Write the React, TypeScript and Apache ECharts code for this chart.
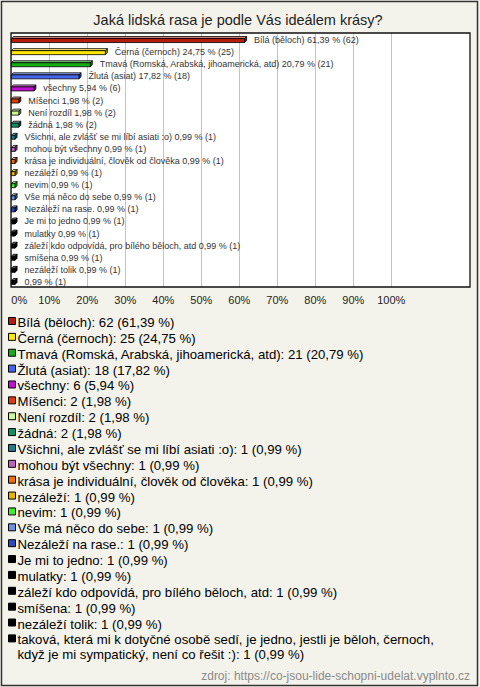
import React, { useEffect, useRef } from "react";
import * as echarts from "echarts";

const titleText = "Jaká lidská rasa je podle Vás ideálem krásy?";
const sourceText = "zdroj: https://co-jsou-lide-schopni-udelat.vyplnto.cz";

const categories = [
  "Bílá (běloch)",
  "Černá (černoch)",
  "Tmavá (Romská, Arabská, jihoamerická, atd)",
  "Žlutá (asiat)",
  "všechny",
  "Míšenci",
  "Není rozdíl",
  "žádná",
  "Všichni, ale zvlášť se mi líbí asiati :o)",
  "mohou být všechny",
  "krása je individuální, člověk od člověka",
  "nezáleží",
  "nevim",
  "Vše má něco do sebe",
  "Nezáleží na rase.",
  "Je mi to jedno",
  "mulatky",
  "záleží kdo odpovídá, pro bílého běloch, atd",
  "smíšena",
  "nezáleží tolik",
  "taková, která mi k dotyčné osobě sedí, je jedno, jestli je běloh, černoch, když je mi sympatický, není co řešit :)",
];

const counts = [62, 25, 21, 18, 6, 2, 2, 2, 1, 1, 1, 1, 1, 1, 1, 1, 1, 1, 1, 1, 1];
const percents = [61.39, 24.75, 20.79, 17.82, 5.94, 1.98, 1.98, 1.98, 0.99, 0.99, 0.99, 0.99, 0.99, 0.99, 0.99, 0.99, 0.99, 0.99, 0.99, 0.99, 0.99];

// the last answer is shown without its name next to its bar
const barNames = categories.map((c, i) => (i === categories.length - 1 ? "" : c));

const colors = [
  "#b41c0c", "#ffe800", "#14ae14", "#4466ee", "#c010d0", "#e03c06", "#ccfa90",
  "#109068", "#1a7e8e", "#c062c4", "#ee7006", "#e8b400", "#40ec30", "#6892e2",
  "#2a4cc0", "#000000", "#000000", "#000000", "#000000", "#000000", "#000000",
];

const xTicks = [0, 10, 20, 30, 40, 50, 60, 70, 80, 90, 100];

const fmt = (v: number) => v.toFixed(2).replace(".", ",");

function shade(hex: string, f: number) {
  const n = parseInt(hex.slice(1), 16);
  let r = (n >> 16) & 255, g = (n >> 8) & 255, b = n & 255;
  if (f > 0) {
    r = Math.round(r + (255 - r) * f);
    g = Math.round(g + (255 - g) * f);
    b = Math.round(b + (255 - b) * f);
  } else {
    r = Math.round(r * (1 + f));
    g = Math.round(g * (1 + f));
    b = Math.round(b * (1 + f));
  }
  return `rgb(${r},${g},${b})`;
}

const FONT = "'Liberation Sans', Arial, sans-serif";
const LEGEND_FONT = `13.2px ${FONT}`;

function wrapText(text: string, font: string, maxW: number) {
  const cv = document.createElement("canvas");
  const ctx = cv.getContext("2d");
  if (!ctx) return text;
  ctx.font = font;
  const words = text.split(" ");
  const lines: string[] = [];
  let cur = "";
  for (const w of words) {
    const cand = cur ? cur + " " + w : w;
    if (cur && ctx.measureText(cand).width > maxW) {
      lines.push(cur);
      cur = w;
    } else {
      cur = cand;
    }
  }
  if (cur) lines.push(cur);
  return lines.join("\n");
}

export default function App() {
  const ref = useRef<HTMLDivElement>(null);

  useEffect(() => {
    if (!ref.current) return;
    const chart = echarts.init(ref.current, undefined, { renderer: "svg" });

    const legendTop = 323;
    const legendStep = 15.87;
    const legendGraphics: any[] = [];
    categories.forEach((name, i) => {
      const yc = legendTop + i * legendStep;
      legendGraphics.push({
        type: "rect",
        shape: { x: 8.5, y: yc - 5.5, width: 7, height: 7 },
        style: { fill: colors[i], stroke: "#000", lineWidth: 1 },
      });
      legendGraphics.push({
        type: "text",
        x: 17.5,
        y: yc - 8,
        style: {
          text: wrapText(`${name}: ${counts[i]} (${fmt(percents[i])} %)`, LEGEND_FONT, 445),
          font: LEGEND_FONT,
          fill: "#000",
          lineHeight: 15,
          verticalAlign: "top",
        },
      });
    });

    const option: any = {
      animation: false,
      backgroundColor: "#f4f3eb",
      graphic: [
        {
          type: "rect",
          z: -10,
          shape: { x: 1.5, y: 1.5, width: 476, height: 684 },
          style: { fill: "#f4f3eb", stroke: "#333", lineWidth: 1.5 },
        },
        {
          type: "rect",
          z: -5,
          shape: { x: 11, y: 33, width: 459, height: 254 },
          style: { fill: "#ffffff", stroke: "none" },
        },
        {
          type: "rect",
          z: 100,
          shape: { x: 11, y: 33, width: 459, height: 254 },
          style: { fill: "none", stroke: "#111", lineWidth: 1.3 },
        },
        {
          type: "text",
          x: 238,
          y: 20,
          style: {
            text: titleText,
            font: `14.5px ${FONT}`,
            fill: "#222",
            align: "center",
            verticalAlign: "middle",
          },
        },
        {
          type: "text",
          x: 470,
          y: 676,
          style: {
            text: sourceText,
            font: `12px ${FONT}`,
            fill: "#8a8a8a",
            align: "right",
            verticalAlign: "middle",
          },
        },
        ...legendGraphics,
      ],
      grid: { left: 11.3, right: 88.7, top: 33, bottom: 400, containLabel: false },
      xAxis: {
        type: "value",
        min: 0,
        max: 100,
        interval: 10,
        axisLine: { show: false },
        axisTick: { show: false },
        splitLine: { show: true, lineStyle: { color: "#c4c4c4", width: 1 } },
        axisLabel: {
          formatter: (v: number) => (xTicks.includes(v) ? `${v}%` : ""),
          color: "#222",
          fontSize: 11,
          fontFamily: FONT,
          margin: 7,
          alignMinLabel: "left",
        },
      },
      yAxis: {
        type: "category",
        data: categories,
        inverse: true,
        show: false,
      },
      series: [
        {
          type: "custom",
          encode: { x: 0, y: 1 },
          data: percents.map((p, i) => [p, i]),
          z: 10,
          renderItem: (params: any, api: any) => {
            const idx = api.value(1);
            const val = api.value(0);
            const p0 = api.coord([0, idx]);
            const p1 = api.coord([val, idx]);
            const x0 = p0[0];
            const x1 = p1[0];
            const yc = p0[1];
            const h = 4;
            const d = 2;
            const c = colors[idx];
            const yTop = yc - 0.5;
            const stroke = { stroke: "#000", lineWidth: 0.8 };
            return {
              type: "group",
              children: [
                {
                  type: "polygon",
                  shape: {
                    points: [
                      [x0, yTop],
                      [x0 + d, yTop - d],
                      [x1 + d, yTop - d],
                      [x1, yTop],
                    ],
                  },
                  style: { fill: shade(c, 0.45), ...stroke },
                },
                {
                  type: "polygon",
                  shape: {
                    points: [
                      [x1, yTop],
                      [x1 + d, yTop - d],
                      [x1 + d, yTop - d + h],
                      [x1, yTop + h],
                    ],
                  },
                  style: { fill: shade(c, -0.35), ...stroke },
                },
                {
                  type: "rect",
                  shape: { x: x0, y: yTop, width: x1 - x0, height: h },
                  style: { fill: c, ...stroke },
                },
                {
                  type: "text",
                  x: x1 + 9.5,
                  y: yc + 1,
                  style: {
                    text: `${barNames[idx] ? barNames[idx] + " " : ""}${fmt(percents[idx])} % (${counts[idx]})`,
                    font: `9px ${FONT}`,
                    fill: "#333",
                    align: "left",
                    verticalAlign: "middle",
                  },
                },
              ],
            };
          },
        },
      ],
    };

    chart.setOption(option);
    return () => chart.dispose();
  }, []);

  return (
    <div
      ref={ref}
      style={{ position: "fixed", left: 0, top: 0, width: 480, height: 687 }}
    />
  );
}
